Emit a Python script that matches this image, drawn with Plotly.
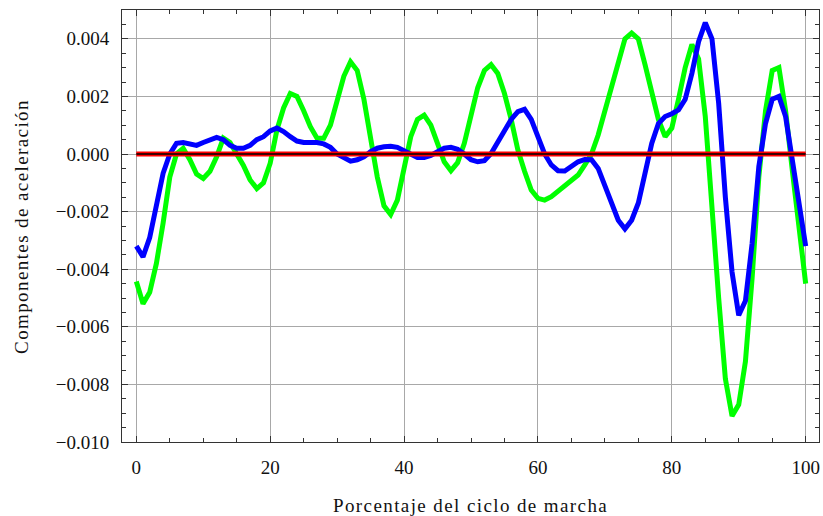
import plotly.graph_objects as go

pct = list(range(0, 101))

green = [
    -0.00443, -0.0052, -0.0048, -0.0038, -0.0024, -0.0008, 0.0000, 0.0002, -0.0002, -0.0007,
    -0.00085, -0.0006, -0.0001, 0.00055, 0.0004, 0.0000, -0.0004, -0.0009, -0.0012, -0.0010,
    -0.00032, 0.00083, 0.0016, 0.0021, 0.0020, 0.0015, 0.00095, 0.00055, 0.00055, 0.0010,
    0.0019, 0.0027, 0.0032, 0.0029, 0.0019, 0.0006, -0.0008, -0.0018, -0.0021, -0.0016,
    -0.00055, 0.0006, 0.0012, 0.00135, 0.0010, 0.00037, -0.00027, -0.00058, -0.0003, 0.00037,
    0.0014, 0.0023, 0.0029, 0.0031, 0.0028, 0.0021, 0.0012, 0.00014, -0.0006, -0.00125,
    -0.00154, -0.0016, -0.00148, -0.0013, -0.00113, -0.00096, -0.00073, -0.00038, 0.0000, 0.00066,
    0.0015, 0.0024, 0.0033, 0.0040, 0.0042, 0.0040, 0.0031, 0.0021, 0.0012, 0.0006,
    0.0009, 0.0019, 0.0030, 0.0038, 0.0033, 0.0013, -0.0020, -0.0050, -0.0078, -0.0091,
    -0.0087, -0.0072, -0.0043, -0.0008, 0.0015, 0.0029, 0.0030, 0.0015, -0.00056, -0.0025,
    -0.0045,
]

blue = [
    -0.0032, -0.00357, -0.0029, -0.0018, -0.00067, 0.0000, 0.00037, 0.0004, 0.00035, 0.0003,
    0.0004, 0.0005, 0.00058, 0.0005, 0.0003, 0.0002, 0.0002, 0.0003, 0.0005, 0.0006,
    0.0008, 0.0009, 0.00078, 0.0006, 0.00045, 0.0004, 0.0004, 0.0004, 0.00035, 0.00023,
    0.0000, -0.00015, -0.00025, -0.0002, -0.0001, 0.00008, 0.0002, 0.00025, 0.00027, 0.00023,
    0.0001, -0.00003, -0.00012, -0.00012, -0.00005, 0.00008, 0.0002, 0.00023, 0.00016, 0.0000,
    -0.0002, -0.00027, -0.00023, 0.00002, 0.00043, 0.00083, 0.0012, 0.00147, 0.00155, 0.0012,
    0.0006, 0.0000, -0.00038, -0.00058, -0.00059, -0.00044, -0.00027, -0.00019, -0.0002, -0.0005,
    -0.0011, -0.0017, -0.0023, -0.0026, -0.0023, -0.0017, -0.00067, 0.00037, 0.00106, 0.0013,
    0.0014, 0.00153, 0.0019, 0.0028, 0.0039, 0.00456, 0.0040, 0.00176, -0.0015, -0.0041,
    -0.0056, -0.0051, -0.0031, -0.00044, 0.00106, 0.0019, 0.0020, 0.0013, -0.0002, -0.0018,
    -0.0032,
]

zero_x = [0, 100]
zero_y = [0.0, 0.0]

x_ticks = [0, 20, 40, 60, 80, 100]
y_ticks = [-0.010, -0.008, -0.006, -0.004, -0.002, 0.000, 0.002, 0.004]

x_title = "Porcentaje del ciclo de marcha"
y_title = "Componentes de aceleración"

FONT = "Liberation Serif, serif"

fig = go.Figure()
fig.add_trace(go.Scatter(x=pct, y=green, mode="lines",
                         line=dict(color="#00ff00", width=5), showlegend=False))
fig.add_trace(go.Scatter(x=pct, y=blue, mode="lines",
                         line=dict(color="#0000ff", width=5), showlegend=False))
fig.add_trace(go.Scatter(x=zero_x, y=zero_y, mode="lines",
                         line=dict(color="#ff0000", width=5), showlegend=False))
fig.add_trace(go.Scatter(x=zero_x, y=zero_y, mode="lines",
                         line=dict(color="#000000", width=1.3), showlegend=False))

axis_common = dict(
    showline=True, linecolor="#333333", linewidth=1, mirror="allticks",
    ticks="inside", ticklen=6, tickcolor="#333333", tickwidth=1,
    showgrid=True, gridcolor="#a8a8a8", gridwidth=1,
    zeroline=False,
    tickfont=dict(family=FONT, size=19, color="#111111"),
)

fig.update_xaxes(
    range=[-2.14, 101.99], tickvals=x_ticks, ticktext=[str(v) for v in x_ticks],
    minor=dict(dtick=5, tick0=0, ticks="inside", ticklen=4, tickcolor="#333333", showgrid=False),
    ticklabelstandoff=8,
    **axis_common,
)
fig.update_yaxes(
    range=[-0.010, 0.005], tickvals=y_ticks, tickformat=".3f",
    minor=dict(dtick=0.0005, tick0=0, ticks="inside", ticklen=4, tickcolor="#333333", showgrid=False),
    ticklabelstandoff=8,
    **axis_common,
)

def spaced(t):
    return '<span style="letter-spacing:1.4px">' + t + '</span>'

fig.update_layout(
    width=823, height=516,
    margin=dict(l=122, r=4, t=10, b=74),
    paper_bgcolor="white", plot_bgcolor="white",
    font=dict(family=FONT, color="#111111"),
    annotations=[
        dict(text=spaced(x_title), xref="paper", yref="paper", x=0.5, y=-0.147,
             showarrow=False, xanchor="center", yanchor="middle",
             font=dict(family=FONT, size=19, color="#111111")),
        dict(text=spaced(y_title), xref="paper", yref="paper", x=-0.145, y=0.5,
             showarrow=False, xanchor="center", yanchor="middle", textangle=-90,
             font=dict(family=FONT, size=19, color="#111111")),
    ],
)

fig.write_html("out.html", config={"displayModeBar": False},
               post_script="document.body.style.margin='0px';")
